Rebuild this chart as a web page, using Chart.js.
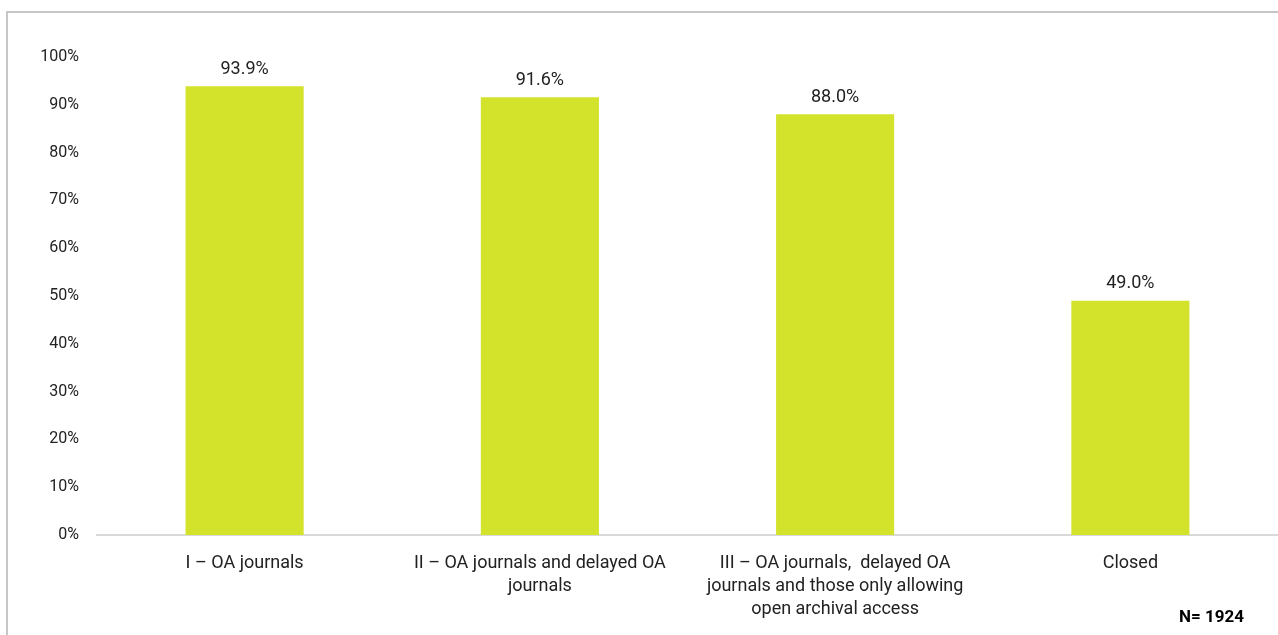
<!DOCTYPE html>
<html>
<head>
<meta charset="utf-8">
<script src="https://cdn.jsdelivr.net/npm/chart.js@4"></script>
<style>
  body { margin: 0; background: #fff; font-family: Roboto, sans-serif; }
  #wrap { position: relative; width: 1278px; height: 635px; overflow: hidden; }
  #frame { position: absolute; left: 6px; top: 11px; width: 1300px; height: 700px;
           border-left: 2px solid #c6c6c6; border-top: 2px solid #c6c6c6; }
  #note { position: absolute; left: 1179px; top: 606px; font: bold 17px Roboto, sans-serif; color: #000; }
  canvas { position: absolute; left: 0; top: 0; }
</style>
</head>
<body>
<div id="wrap">
  <div id="frame"></div>
  <canvas id="chart" width="1278" height="635"></canvas>
  <div id="note">N= 1924</div>
</div>
<script>
  const categories = [
    "I – OA journals",
    ["II – OA journals and delayed OA", "journals"],
    ["III – OA journals,  delayed OA", "journals and those only allowing", "open archival access"],
    "Closed"
  ];
  const shares = [93.9, 91.6, 88.0, 49.0];
  const yTicks = [0, 10, 20, 30, 40, 50, 60, 70, 80, 90, 100];

  const valueLabels = {
    id: 'valueLabels',
    afterDatasetsDraw(chart) {
      const ctx = chart.ctx;
      ctx.save();
      ctx.font = '18px Roboto';
      ctx.fillStyle = '#222';
      ctx.textAlign = 'center';
      ctx.textBaseline = 'middle';
      chart.getDatasetMeta(0).data.forEach((bar, i) => {
        ctx.fillText(shares[i].toFixed(1) + '%', bar.x, bar.y - 17);
      });
      ctx.restore();
    }
  };

  new Chart(document.getElementById('chart'), {
    type: 'bar',
    data: {
      labels: categories,
      datasets: [{
        data: shares,
        backgroundColor: '#d3e22b',
        barPercentage: 0.4,
        categoryPercentage: 1
      }]
    },
    options: {
      responsive: false,
      animation: false,
      layout: { padding: { top: 57, right: 0, left: 0, bottom: 0 } },
      plugins: { legend: { display: false }, tooltip: { enabled: false } },
      scales: {
        x: {
          grid: { display: false, drawTicks: false },
          border: { display: true, color: '#d9d9d9', width: 2 },
          ticks: { color: '#222', font: { family: 'Roboto', size: 18, lineHeight: 1.28 }, padding: 17, maxRotation: 0, autoSkip: false },
          afterFit(scale) { scale.height = 100; }
        },
        y: {
          min: 0, max: 100,
          afterBuildTicks(scale) { scale.ticks = yTicks.map(v => ({ value: v })); },
          grid: { display: false, drawTicks: false },
          border: { display: false },
          ticks: { color: '#222', font: { family: 'Roboto', size: 16 }, padding: 18, callback: v => v + '%' },
          afterFit(scale) { scale.width = 97; }
        }
      }
    },
    plugins: [valueLabels]
  });
</script>
</body>
</html>
